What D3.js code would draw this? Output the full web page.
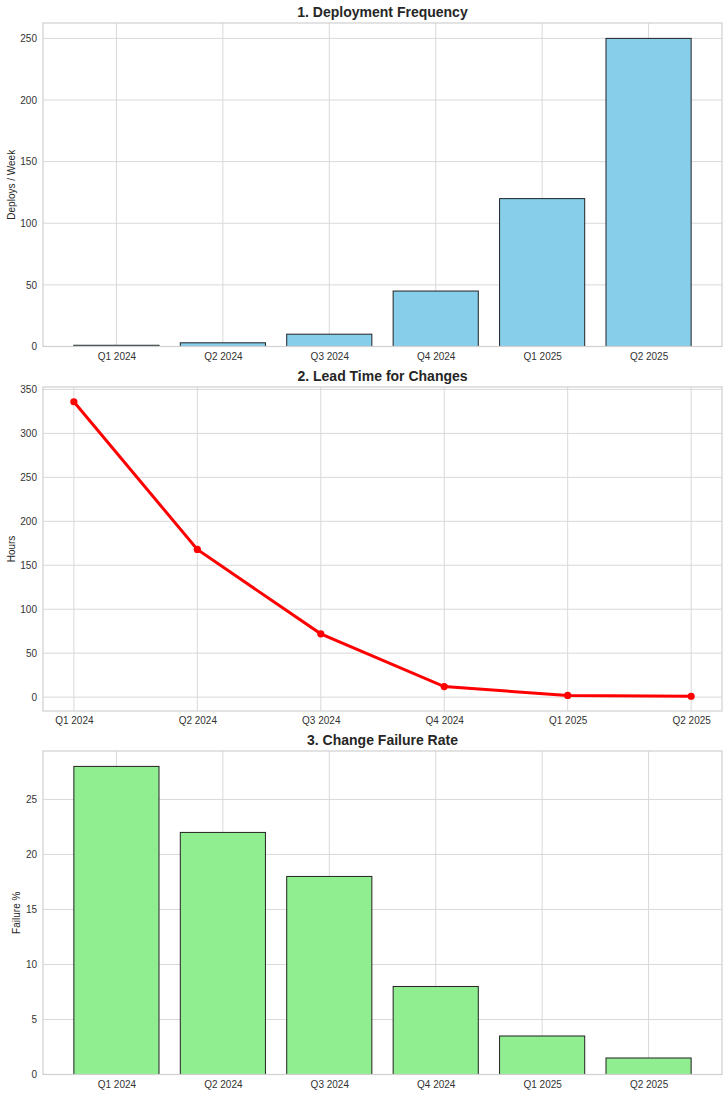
<!DOCTYPE html>
<html>
<head>
<meta charset="utf-8">
<script src="https://cdn.jsdelivr.net/npm/d3@7"></script>
<style>
  body { margin: 0; background: #fff; }
  svg text { font-family: "Liberation Sans", Arial, sans-serif; }
</style>
</head>
<body>
<div id="chart"></div>
<script>
// quarters shared by all three panels
const quarters = ["Q1 2024", "Q2 2024", "Q3 2024", "Q4 2024", "Q1 2025", "Q2 2025"]
const deploysPerWeek = [1, 3, 10, 45, 120, 250]
const leadTimeHours = [336, 168, 72, 12, 2, 1]
const failurePct = [28, 22, 18, 8, 3.5, 1.5]
const deployTicks = [0, 50, 100, 150, 200, 250]
const leadTicks = [0, 50, 100, 150, 200, 250, 300, 350]
const failureTicks = [0, 5, 10, 15, 20, 25]

const width = 728, height = 1097
const left = 43, right = 722

const svg = d3.select("#chart")
    .append("svg")
    .attr("width", width)
    .attr("height", height)

const gridColor = "#d9d9d9"
const textColor = "#333"

// one panel: frame, grid, axes, title
function panel(cfg) {
    const g = svg.append("g")
    const y = d3.scaleLinear().domain(cfg.yDomain).range([cfg.bottom, cfg.top])
    const x = d3.scaleLinear().domain(cfg.xDomain).range([left, right])

    // grid
    g.append("g").selectAll("line.h")
        .data(cfg.yTicks)
        .join("line")
        .attr("x1", left).attr("x2", right)
        .attr("y1", d => y(d)).attr("y2", d => y(d))
        .attr("stroke", gridColor).attr("stroke-width", 1)
    g.append("g").selectAll("line.v")
        .data(quarters)
        .join("line")
        .attr("x1", (d, i) => x(i)).attr("x2", (d, i) => x(i))
        .attr("y1", cfg.top).attr("y2", cfg.bottom)
        .attr("stroke", gridColor).attr("stroke-width", 1)

    // axes (tick labels only, matplotlib whitegrid style)
    const yAxis = g.append("g")
        .attr("transform", `translate(${left},0)`)
        .call(d3.axisLeft(y).tickValues(cfg.yTicks).tickSize(0).tickPadding(6))
    const xAxis = g.append("g")
        .attr("transform", `translate(0,${cfg.bottom})`)
        .call(d3.axisBottom(x).tickValues(d3.range(quarters.length))
            .tickFormat(i => quarters[i]).tickSize(0).tickPadding(6))
    for (const a of [yAxis, xAxis]) {
        a.select(".domain").remove()
        a.selectAll("text").attr("fill", textColor).style("font-size", "10px")
    }

    g.append("text")
        .attr("x", (left + right) / 2)
        .attr("y", cfg.top - 6)
        .attr("text-anchor", "middle")
        .style("font-size", "14px")
        .style("font-weight", "bold")
        .attr("fill", "#262626")
        .text(cfg.title)

    g.append("text")
        .attr("transform", `translate(${cfg.labelX},${(cfg.top + cfg.bottom) / 2}) rotate(-90)`)
        .attr("text-anchor", "middle")
        .style("font-size", "10px")
        .attr("fill", "#262626")
        .text(cfg.ylabel)

    return { g, x, y, frame: () => g.append("rect")
        .attr("x", left).attr("y", cfg.top)
        .attr("width", right - left).attr("height", cfg.bottom - cfg.top)
        .attr("fill", "none").attr("stroke", "#d0d0d0").attr("stroke-width", 1.2) }
}

function bars(p, values, color, baseline) {
    p.g.append("g").selectAll("rect")
        .data(values)
        .join("rect")
        .attr("x", (d, i) => p.x(i - 0.4))
        .attr("width", p.x(0.4) - p.x(-0.4))
        .attr("y", d => p.y(d))
        .attr("height", d => p.y(0) - p.y(d))
        .attr("fill", color)
        .attr("stroke", "#222")
        .attr("stroke-width", 1)
}

// 1. Deployment Frequency
const p1 = panel({
    top: 23, bottom: 346.5, title: "1. Deployment Frequency", ylabel: "Deploys / Week", labelX: 15,
    yDomain: [0, 262.5], xDomain: [-0.69, 5.69], yTicks: deployTicks
})
bars(p1, deploysPerWeek, "#87ceeb")
p1.frame()

// 2. Lead Time for Changes
const p2 = panel({
    top: 387, bottom: 711, title: "2. Lead Time for Changes", ylabel: "Hours", labelX: 15,
    yDomain: [-15.75, 352.75], xDomain: [-0.25, 5.25], yTicks: leadTicks
})
p2.frame()
p2.g.append("path")
    .datum(leadTimeHours)
    .attr("d", d3.line().x((d, i) => p2.x(i)).y(d => p2.y(d)))
    .attr("fill", "none")
    .attr("stroke", "red")
    .attr("stroke-width", 3)
p2.g.append("g").selectAll("circle")
    .data(leadTimeHours)
    .join("circle")
    .attr("cx", (d, i) => p2.x(i))
    .attr("cy", d => p2.y(d))
    .attr("r", 3.6)
    .attr("fill", "red")

// 3. Change Failure Rate
const p3 = panel({
    top: 751, bottom: 1074.5, title: "3. Change Failure Rate", ylabel: "Failure %", labelX: 20,
    yDomain: [0, 29.4], xDomain: [-0.69, 5.69], yTicks: failureTicks
})
bars(p3, failurePct, "#90ee90")
p3.frame()
</script>
</body>
</html>
